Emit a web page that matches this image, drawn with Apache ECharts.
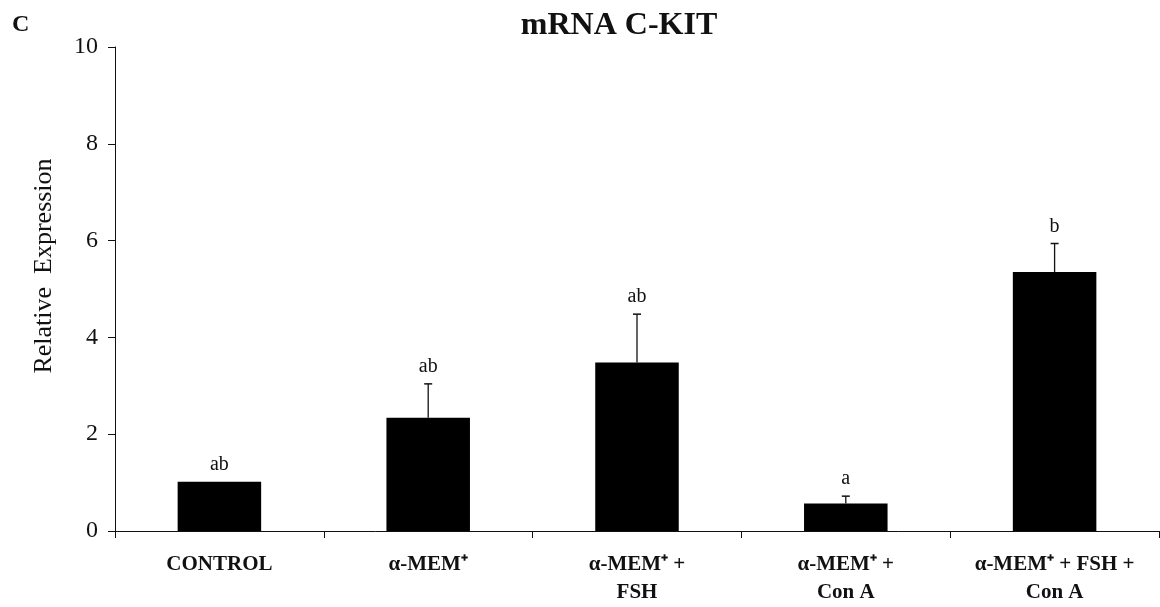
<!DOCTYPE html>
<html>
<head>
<meta charset="utf-8">
<script src="https://cdn.jsdelivr.net/npm/echarts@6/dist/echarts.min.js"></script>
<style>
  html, body { margin: 0; padding: 0; background: #fff; }
  #chart { width: 1160px; height: 607px; }
</style>
</head>
<body>
<div id="chart"></div>
<script>
// Treatment groups (x axis)
const categories = [
  'CONTROL',
  'α-MEM⁺',
  'α-MEM⁺ +\nFSH',
  'α-MEM⁺ +\nCon A',
  'α-MEM⁺ + FSH +\nCon A'
];
// Mean relative expression of C-KIT mRNA
const means = [1.02, 2.34, 3.48, 0.57, 5.35];
// Upper error (SEM)
const errors = [0, 0.70, 1.00, 0.15, 0.59];
// Significance letters
const letters = ['ab', 'ab', 'ab', 'a', 'b'];
// Y axis ticks
const yTicks = [0, 2, 4, 6, 8, 10];

const serif = 'Liberation Serif, Times New Roman, serif';
const ink = '#111';

const chart = echarts.init(document.getElementById('chart'));

chart.setOption({
  backgroundColor: '#fff',
  animation: false,
  title: {
    text: 'mRNA C-KIT',
    left: 614,
    textAlign: 'center',
    top: 5,
    textStyle: { fontFamily: serif, fontSize: 32, fontWeight: 'bold', color: ink }
  },
  graphic: [
    {
      type: 'text', left: 12, top: 13,
      style: { text: 'C', fontFamily: serif, fontSize: 24, fontWeight: 'bold', fill: ink }
    },
    {
      type: 'text', x: 44, y: 266, rotation: Math.PI / 2,
      style: {
        text: 'Relative  Expression', fontFamily: serif, fontSize: 26,
        fill: ink, align: 'center', verticalAlign: 'middle'
      }
    }
  ],
  grid: { left: 115, right: 1, top: 47, bottom: 76, containLabel: false },
  xAxis: {
    type: 'category',
    data: categories,
    boundaryGap: true,
    axisLine: { lineStyle: { color: ink, width: 1 } },
    axisTick: { show: true, length: 7, inside: false, lineStyle: { color: ink } },
    axisLabel: {
      interval: 0,
      margin: 20,
      fontFamily: serif,
      fontSize: 21,
      fontWeight: 'bold',
      color: ink,
      lineHeight: 28
    }
  },
  yAxis: {
    type: 'value',
    min: yTicks[0],
    max: yTicks[yTicks.length - 1],
    interval: yTicks[1] - yTicks[0],
    splitLine: { show: false },
    axisLine: { show: true, lineStyle: { color: ink, width: 1 } },
    axisTick: { show: true, length: 7, lineStyle: { color: ink } },
    axisLabel: { margin: 17, fontFamily: serif, fontSize: 24, color: ink }
  },
  series: [
    {
      type: 'bar',
      data: means,
      barWidth: '40%',
      itemStyle: { color: '#000' },
      z: 2
    },
    {
      type: 'custom',
      data: means.map((m, i) => [i, m, errors[i]]),
      z: 3,
      renderItem: function (params, api) {
        const i = api.value(0);
        const m = api.value(1);
        const e = api.value(2);
        const base = api.coord([i, m]);
        const top = api.coord([i, m + e]);
        const cap = 4;
        const children = [];
        if (e > 0) {
          children.push({
            type: 'line',
            shape: { x1: base[0], y1: base[1], x2: top[0], y2: top[1] },
            style: { stroke: ink, lineWidth: 1.3 }
          });
          children.push({
            type: 'line',
            shape: { x1: top[0] - cap, y1: top[1], x2: top[0] + cap, y2: top[1] },
            style: { stroke: ink, lineWidth: 1.5 }
          });
        }
        children.push({
          type: 'text',
          x: top[0],
          y: top[1] - 17,
          style: {
            text: letters[params.dataIndex],
            fontFamily: serif,
            fontSize: 20,
            fill: ink,
            align: 'center',
            verticalAlign: 'middle'
          }
        });
        return { type: 'group', children: children };
      }
    }
  ]
});
</script>
</body>
</html>
